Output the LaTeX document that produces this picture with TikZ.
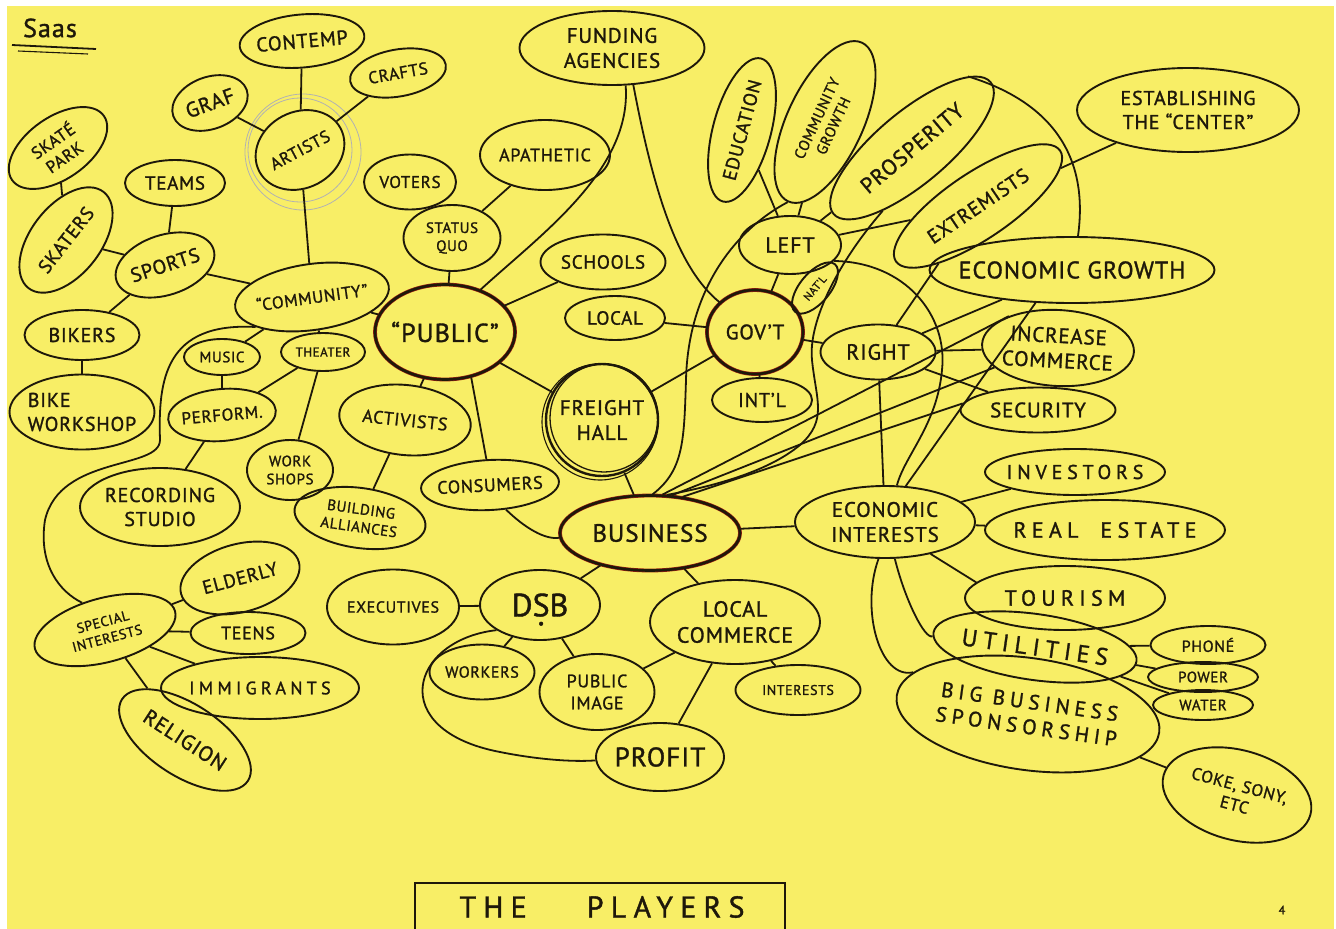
\documentclass[tikz,border=0pt]{standalone}
\usepackage{fontspec}
\setmainfont{PT Sans}[LetterSpace=4,FakeBold=1.3]
\usetikzlibrary{shapes.geometric}

\definecolor{paper}{RGB}{248,238,102}
\definecolor{ink}{RGB}{30,24,10}
\definecolor{ringred}{RGB}{150,32,18}

\tikzset{
  fs/.style={font=\fontsize{#1}{\the\numexpr#1*6/5\relax}\selectfont},
  spaced/.style={font=\fontsize{#1}{\the\numexpr#1*6/5\relax}\selectfont\addfontfeatures{LetterSpace=24}},
  sz/.style 2 args={minimum width=#1pt,minimum height=#2pt},
  bubble/.style={ellipse,draw=ink,text=ink,line width=1.9pt,inner sep=-300pt,align=center,fs=20},
  player/.style={bubble,line width=2.6pt,preaction={draw=ringred,line width=3.8pt}},
  hall/.style={circle,draw=ink,text=ink,line width=2.4pt,inner sep=0pt,align=center},
  link/.style={draw=ink,line width=1.8pt},
  faint/.style={draw=black!30,line width=0.8pt},
}
\newcommand\dotS{\ooalign{S\cr\hidewidth\smash{\raisebox{-0.28em}{.}}\hidewidth\cr}}

\begin{document}
\begin{tikzpicture}[x=1pt,y=-1pt]
\useasboundingbox (0,0) rectangle (1336,929);
\fill[white] (0,0) rectangle (1336,929);
\fill[paper] (7,6) rectangle (1334,929);

% arts and sports
\node[text=ink,fs=26] (saas) at (50,28) {Saas};
\node[bubble,sz={125}{53},rotate=5,fs=20]   (contemp)   at (302,41)  {CONTEMP};
\node[bubble,sz={97}{47},rotate=10,fs=17]   (crafts)    at (398,73)  {CRAFTS};
\node[bubble,sz={78}{52},rotate=20,fs=21]   (graf)      at (210,103) {GRAF};
\node[bubble,sz={92}{76},rotate=28,fs=17]   (artists)   at (300,150) {ARTISTS};
\node[bubble,sz={112}{62},rotate=35,fs=17]  (skatepark) at (58,148)  {SKATÉ\\PARK};
\node[bubble,sz={122}{70},rotate=52,fs=19]  (skaters)   at (66,240)  {SKATERS};
\node[bubble,sz={100}{46},fs=19]            (teams)     at (175,183) {TEAMS};
\node[bubble,sz={102}{60},rotate=18,fs=20]  (sports)    at (165,265) {SPORTS};
\node[bubble,sz={155}{66},rotate=8,fs=17]   (community) at (312,297) {“COMMUNITY”};
\node[bubble,sz={115}{50},fs=20]            (bikers)    at (82,335)  {BIKERS};
\node[bubble,sz={145}{75},fs=20,align=left] (bikeworkshop) at (82,412) {BIKE\\WORKSHOP};
\node[bubble,sz={76}{36},fs=15]             (music)     at (222,357) {MUSIC};
\node[bubble,sz={84}{38},fs=13]             (theater)   at (323,352) {THEATER};
\node[bubble,sz={108}{52},rotate=5,fs=17]   (perform)   at (222,415) {PERFORM.};
\node[bubble,sz={160}{78},fs=20]            (recording) at (160,507) {RECORDING\\STUDIO};
\node[bubble,sz={86}{60},fs=15]             (workshops) at (290,470) {WORK\\SHOPS};
\node[bubble,sz={132}{60},rotate=-8,fs=15]  (buildingall) at (360,518) {BUILDING\\ALLIANCES};
\node[bubble,sz={122}{68},rotate=15,fs=19]  (elderly)   at (240,578) {ELDERLY};
\node[bubble,sz={145}{64},rotate=15,fs=14]  (specialint) at (105,630) {SPECIAL\\INTERESTS};
\node[bubble,sz={115}{42},fs=18]            (teens)     at (248,633) {TEENS};
\node[bubble,sz={198}{62},spaced=18]        (immigrants) at (260,688) {IMMIGRANTS};
\node[bubble,sz={150}{72},rotate=-33,fs=21] (religion)  at (185,740) {RELIGION};

% public
\node[player,sz={140}{95},fs=26]            (public)    at (445,332) {“PUBLIC”};
\node[bubble,sz={92}{55},fs=17]             (voters)    at (410,182) {VOTERS};
\node[bubble,sz={97}{66},fs=15]             (statusquo) at (452,238) {STATUS\\QUO};
\node[bubble,sz={130}{70},fs=18]            (apathetic) at (545,155) {APATHETIC};
\node[bubble,sz={185}{74},fs=21]            (funding)   at (612,48)  {FUNDING\\AGENCIES};
\node[bubble,sz={125}{55},fs=19]            (schools)   at (603,262) {SCHOOLS};
\node[bubble,sz={100}{44},fs=19]            (local)     at (615,318) {LOCAL};
\node[bubble,sz={132}{70},rotate=-6,fs=18]  (activists) at (405,420) {ACTIVISTS};
\node[bubble,sz={138}{50},rotate=3,fs=18]   (consumers) at (490,485) {CONSUMERS};
\node[hall,minimum size=112pt,fs=21]        (freight)   at (602,420) {FREIGHT\\HALL};
\node[player,sz={180}{75},fs=25]            (business)  at (650,533) {BUSINESS};

% government
\node[player,sz={96}{84},fs=21]             (govt)      at (755,332) {GOV’T};
\node[bubble,sz={100}{44},fs=20]            (intl)      at (762,400) {INT’L};
\node[bubble,sz={62}{30},rotate=50,fs=11]   (natl)      at (815,288) {NAT’L};
\node[bubble,sz={102}{58},fs=22]            (left)      at (790,245) {LEFT};
\node[bubble,sz={148}{58},rotate=75,fs=19]  (education) at (742,130) {EDUCATION};
\node[bubble,sz={175}{76},rotate=65,fs=15]  (commgrowth) at (825,122) {COMMUNITY\\GROWTH};
\node[bubble,sz={205}{72},rotate=40,fs=22]  (prosperity) at (912,148) {PROSPERITY};
\node[bubble,sz={198}{66},rotate=34,fs=20]  (extremists) at (978,206) {EXTREMISTS};
\node[bubble,sz={222}{84},fs=20]            (establishing) at (1188,110) {ESTABLISHING\\THE “CENTER”};
\node[bubble,sz={285}{66},fs=24]            (econgrowth) at (1072,270) {ECONOMIC GROWTH};
\node[bubble,sz={115}{55},fs=22]            (right)     at (878,352) {RIGHT};
\node[bubble,sz={152}{76},rotate=-3,fs=21]  (increase)  at (1058,348) {INCREASE\\COMMERCE};
\node[bubble,sz={155}{45},fs=21]            (security)  at (1038,410) {SECURITY};

% economy
\node[bubble,sz={180}{72},fs=21]            (econinterests) at (885,522) {ECONOMIC\\INTERESTS};
\node[bubble,sz={180}{46},spaced=20]        (investors) at (1075,472) {INVESTORS};
\node[bubble,sz={240}{60},spaced=22]        (realestate) at (1105,530) {REAL\quad ESTATE};
\node[bubble,sz={200}{64},spaced=22]        (tourism)   at (1065,598) {TOURISM};
\node[bubble,sz={205}{66},rotate=-8,spaced=24] (utilities) at (1035,647) {UTILITIES};
\node[bubble,sz={115}{38},fs=16]            (phone)     at (1208,645) {PHONÉ};
\node[bubble,sz={110}{30},fs=15]            (power)     at (1203,677) {POWER};
\node[bubble,sz={100}{30},fs=15]            (water)     at (1203,705) {WATER};
\node[bubble,sz={265}{112},rotate=-8,spaced=21] (bigbusiness) at (1028,714) {BIG BUSINESS\\SPONSORSHIP};
\node[bubble,sz={152}{90},rotate=-15,fs=17] (coke)      at (1237,795) {COKE, SONY,\\ETC};
\node[bubble,sz={170}{84},fs=22]            (localcommerce) at (735,622) {LOCAL\\COMMERCE};
\node[bubble,sz={125}{50},fs=14]            (interests) at (798,690) {INTERESTS};
\node[bubble,sz={128}{68},fs=27]            (profit)    at (660,757) {PROFIT};
\node[bubble,sz={115}{76},fs=18]            (publicimage) at (597,692) {PUBLIC\\IMAGE};
\node[bubble,sz={105}{55},fs=16]            (workers)   at (482,672) {WORKERS};
\node[bubble,sz={120}{70},fs=32]            (dsb)       at (540,605) {D\dotS B};
\node[bubble,sz={132}{75},fs=16]            (executives) at (393,607) {EXECUTIVES};

\node[text=ink,spaced=30] (players) at (602,907) {THE\qquad PLAYERS};
\node[text=ink,fs=12] (pagenum) at (1282,910) {4};

% pencil marks and frames
\draw[link] (12,45) -- (96,49);
\draw[link,line width=1.1pt] (18,51) -- (88,54);
\draw[faint] (artists.center) circle[radius=52pt];
\draw[faint] ([shift={(3,2)}]artists.center) circle[radius=58pt];
\draw[link,line width=1.3pt] ([shift={(2,-2)}]freight.center) circle[radius=54pt];
\draw[link,line width=1.1pt] ([shift={(-2,2)}]freight.center) circle[radius=58pt];
\draw[link] (415,929) |- (785,883) -- (785,929);

\path[link] (contemp) edge (artists)
            (crafts) edge (artists)
            (graf) edge (artists)
            (artists) edge (community)
            (skatepark) edge (skaters)
            (skaters) edge (sports)
            (teams) edge (sports)
            (sports) edge (bikers)
                     edge (community)
            (bikers) edge (bikeworkshop)
            (community) edge (music)
                        edge (theater)
                        edge (public)
            (music) edge (perform)
            (theater) edge (perform)
                      edge (workshops)
            (perform) edge (recording);

\path[link] (public) edge (statusquo)
            (statusquo) edge (voters)
                        edge (apathetic)
            (public) edge (schools)
                     edge (activists)
                     edge (freight)
            (public.300) edge (consumers.95)
            (activists) edge (buildingall)
            (freight) edge (business)
                      edge (govt)
            (local) edge (govt);

\path[link] (govt) edge (intl)
                   edge (natl)
                   edge (left)
                   edge (right)
            (left) edge (education)
                   edge (commgrowth)
                   edge (prosperity)
                   edge (extremists)
            (extremists) edge (right)
            (establishing) edge (extremists)
            (econgrowth) edge (right)
            (econgrowth.222) edge (econinterests.60)
            (right) edge (increase)
                    edge (security)
                    edge (econinterests)
            (business) edge (econinterests)
                       edge (dsb)
                       edge (localcommerce)
            (business.72) edge (increase.150)
            (business.60) edge (increase.200)
            (business.48) edge (security.175);

\path[link] (dsb) edge (executives)
                  edge (workers)
                  edge (publicimage)
            (localcommerce) edge (publicimage)
                            edge (profit)
                            edge (interests)
            (econinterests) edge (investors)
                            edge (realestate)
            (econinterests.-35) edge (tourism.170)
            (utilities) edge (phone)
                        edge (power)
                        edge (water)
            (bigbusiness) edge (coke)
            (specialint) edge (elderly)
                         edge (teens)
                         edge (immigrants)
                         edge (religion);

% long curves
\draw[link] (community.200) .. controls (165,322) and (158,380) .. (160,440)
            .. controls (160,470) and (60,455) .. (45,520)
            .. controls (38,565) and (60,592) .. (specialint.115);
\draw[link] (public.50) .. controls (540,235) and (632,170) .. (funding.290);
\draw[link] (funding.300) .. controls (655,200) and (680,270) .. (govt.140);
\draw[link] (consumers.-60) .. controls (525,528) and (545,540) .. (business.183);
\draw[link] (commgrowth.west) .. controls (735,230) and (688,290) .. (686,380)
            .. controls (684,440) and (684,470) .. (business.86);
\draw[link] (prosperity.205) .. controls (840,260) and (808,320) .. (812,360)
            .. controls (816,400) and (828,420) .. (800,445)
            .. controls (770,470) and (720,485) .. (business.66);
\draw[link] (left.-20) .. controls (905,262) and (948,315) .. (942,370)
            .. controls (937,425) and (905,455) .. (econinterests.72);
\draw[link] (prosperity.12) .. controls (1045,100) and (1090,150) .. (econgrowth.80);
\draw[link] (dsb.210) .. controls (410,640) and (385,730) .. (500,752)
            .. controls (540,760) and (575,762) .. (profit.183);
\draw[link] (econinterests.-75) .. controls (905,600) and (925,640) .. (utilities.182);
\draw[link] (econinterests.-100) .. controls (860,610) and (880,680) .. (bigbusiness.168);
\end{tikzpicture}
\end{document}
